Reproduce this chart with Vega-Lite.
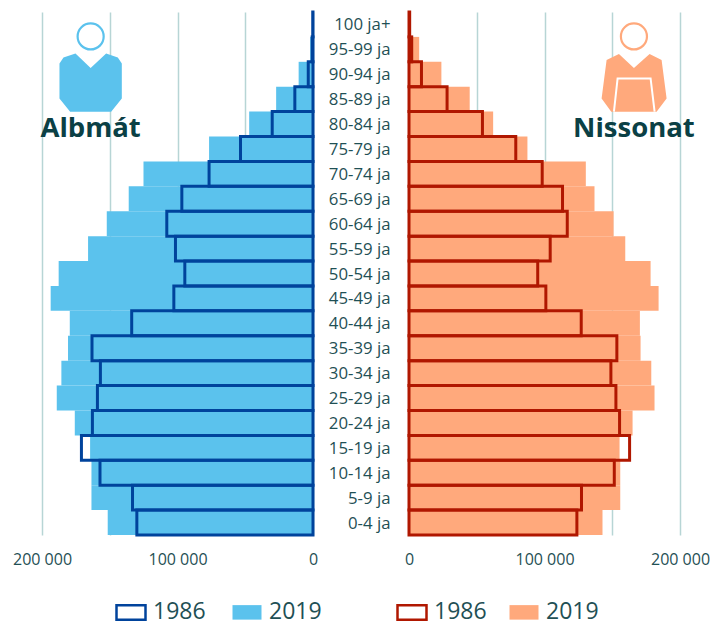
{"$schema":"https://vega.github.io/schema/vega-lite/v6.json","padding":{"left":12,"top":10,"right":0,"bottom":0},"background":"white","bounds":"flush","spacing":96,"resolve":{"scale":{"fill":"independent","stroke":"independent"},"legend":{"fill":"independent","stroke":"independent"}},"config":{"view":{"stroke":null},"font":"Open Sans","axis":{"labelFont":"Open Sans","labelColor":"#1f5055","labelFontSize":16,"title":null},"legend":{"labelFont":"Open Sans","labelColor":"#1f5055"}},"datasets":{"pop":[
{"sex":"m","age":"100 ja+","year":"2019","value":300},{"sex":"m","age":"95-99 ja","year":"2019","value":2100},{"sex":"m","age":"90-94 ja","year":"2019","value":10600},{"sex":"m","age":"85-89 ja","year":"2019","value":27200},{"sex":"m","age":"80-84 ja","year":"2019","value":47100},{"sex":"m","age":"75-79 ja","year":"2019","value":76700},{"sex":"m","age":"70-74 ja","year":"2019","value":125100},{"sex":"m","age":"65-69 ja","year":"2019","value":136000},{"sex":"m","age":"60-64 ja","year":"2019","value":152200},{"sex":"m","age":"55-59 ja","year":"2019","value":166000},{"sex":"m","age":"50-54 ja","year":"2019","value":187700},{"sex":"m","age":"45-49 ja","year":"2019","value":193600},{"sex":"m","age":"40-44 ja","year":"2019","value":179500},{"sex":"m","age":"35-39 ja","year":"2019","value":180800},{"sex":"m","age":"30-34 ja","year":"2019","value":185700},{"sex":"m","age":"25-29 ja","year":"2019","value":189100},{"sex":"m","age":"20-24 ja","year":"2019","value":175800},{"sex":"m","age":"15-19 ja","year":"2019","value":164500},{"sex":"m","age":"10-14 ja","year":"2019","value":163500},{"sex":"m","age":"5-9 ja","year":"2019","value":163500},{"sex":"m","age":"0-4 ja","year":"2019","value":151500},
{"sex":"m","age":"100 ja+","year":"1986","value":200},{"sex":"m","age":"95-99 ja","year":"1986","value":600},{"sex":"m","age":"90-94 ja","year":"1986","value":3500},{"sex":"m","age":"85-89 ja","year":"1986","value":13400},{"sex":"m","age":"80-84 ja","year":"1986","value":30100},{"sex":"m","age":"75-79 ja","year":"1986","value":53500},{"sex":"m","age":"70-74 ja","year":"1986","value":76700},{"sex":"m","age":"65-69 ja","year":"1986","value":96800},{"sex":"m","age":"60-64 ja","year":"1986","value":107900},{"sex":"m","age":"55-59 ja","year":"1986","value":101500},{"sex":"m","age":"50-54 ja","year":"1986","value":94600},{"sex":"m","age":"45-49 ja","year":"1986","value":102700},{"sex":"m","age":"40-44 ja","year":"1986","value":133800},{"sex":"m","age":"35-39 ja","year":"1986","value":163100},{"sex":"m","age":"30-34 ja","year":"1986","value":156900},{"sex":"m","age":"25-29 ja","year":"1986","value":159100},{"sex":"m","age":"20-24 ja","year":"1986","value":162800},{"sex":"m","age":"15-19 ja","year":"1986","value":170900},{"sex":"m","age":"10-14 ja","year":"1986","value":157200},{"sex":"m","age":"5-9 ja","year":"1986","value":133200},{"sex":"m","age":"0-4 ja","year":"1986","value":130000},
{"sex":"f","age":"100 ja+","year":"2019","value":1000},{"sex":"f","age":"95-99 ja","year":"2019","value":7500},{"sex":"f","age":"90-94 ja","year":"2019","value":23900},{"sex":"f","age":"85-89 ja","year":"2019","value":44800},{"sex":"f","age":"80-84 ja","year":"2019","value":62100},{"sex":"f","age":"75-79 ja","year":"2019","value":87400},{"sex":"f","age":"70-74 ja","year":"2019","value":130500},{"sex":"f","age":"65-69 ja","year":"2019","value":136900},{"sex":"f","age":"60-64 ja","year":"2019","value":151000},{"sex":"f","age":"55-59 ja","year":"2019","value":159600},{"sex":"f","age":"50-54 ja","year":"2019","value":178300},{"sex":"f","age":"45-49 ja","year":"2019","value":184200},{"sex":"f","age":"40-44 ja","year":"2019","value":170400},{"sex":"f","age":"35-39 ja","year":"2019","value":170900},{"sex":"f","age":"30-34 ja","year":"2019","value":178800},{"sex":"f","age":"25-29 ja","year":"2019","value":181200},{"sex":"f","age":"20-24 ja","year":"2019","value":165000},{"sex":"f","age":"15-19 ja","year":"2019","value":155400},{"sex":"f","age":"10-14 ja","year":"2019","value":155900},{"sex":"f","age":"5-9 ja","year":"2019","value":155900},{"sex":"f","age":"0-4 ja","year":"2019","value":142800},
{"sex":"f","age":"100 ja+","year":"1986","value":500},{"sex":"f","age":"95-99 ja","year":"1986","value":2000},{"sex":"f","age":"90-94 ja","year":"1986","value":9200},{"sex":"f","age":"85-89 ja","year":"1986","value":28100},{"sex":"f","age":"80-84 ja","year":"1986","value":54200},{"sex":"f","age":"75-79 ja","year":"1986","value":78800},{"sex":"f","age":"70-74 ja","year":"1986","value":98300},{"sex":"f","age":"65-69 ja","year":"1986","value":113300},{"sex":"f","age":"60-64 ja","year":"1986","value":116800},{"sex":"f","age":"55-59 ja","year":"1986","value":104200},{"sex":"f","age":"50-54 ja","year":"1986","value":95000},{"sex":"f","age":"45-49 ja","year":"1986","value":101000},{"sex":"f","age":"40-44 ja","year":"1986","value":127100},{"sex":"f","age":"35-39 ja","year":"1986","value":153400},{"sex":"f","age":"30-34 ja","year":"1986","value":149000},{"sex":"f","age":"25-29 ja","year":"1986","value":152700},{"sex":"f","age":"20-24 ja","year":"1986","value":155400},{"sex":"f","age":"15-19 ja","year":"1986","value":162800},{"sex":"f","age":"10-14 ja","year":"1986","value":151500},{"sex":"f","age":"5-9 ja","year":"1986","value":127300},{"sex":"f","age":"0-4 ja","year":"1986","value":123900}
]},"hconcat":[
{"width":271,"height":523,"layer":[
{"data":{"name":"pop"},"transform":[{"filter":"datum.sex==='m' && datum.year==='2019'"}],"mark":{"type":"bar","strokeWidth":0},
"encoding":{"y":{"field":"age","type":"nominal","axis":null,"scale":{"type":"band","paddingInner":0,"paddingOuter":0,"domain":["100 ja+","95-99 ja","90-94 ja","85-89 ja","80-84 ja","75-79 ja","70-74 ja","65-69 ja","60-64 ja","55-59 ja","50-54 ja","45-49 ja","40-44 ja","35-39 ja","30-34 ja","25-29 ja","20-24 ja","15-19 ja","10-14 ja","5-9 ja","0-4 ja"]}},
"x":{"field":"value","type":"quantitative","stack":null,"scale":{"domain":[0,200000],"reverse":true,"nice":false},"axis":{"values":[0,50000,100000,150000,200000],"grid":true,"gridColor":"#b7d5d5","gridWidth":1.5,"domain":false,"ticks":false,"labelPadding":16,"labelFlush":false,"labelOverlap":false,"labelExpr":"datum.value % 100000 === 0 ? replace(format(datum.value, ','), ',', ' ') : ''"}},
"fill":{"field":"year","type":"nominal","scale":{"domain":["1986","2019"],"range":["transparent","#5bc2ed"]},"legend":{"orient":"none","legendX":73,"legendY":584,"direction":"horizontal","columns":2,"title":null,"symbolType":"M-1,-0.5H1V0.5H-1Z","symbolSize":841,"symbolStrokeWidth":2.5,"labelFontSize":23,"labelOffset":6,"columnPadding":21}},
"stroke":{"field":"year","type":"nominal","scale":{"domain":["1986","2019"],"range":["#00439c","transparent"]}}}},
{"data":{"name":"pop"},"transform":[{"filter":"datum.sex==='m' && datum.year==='1986'"}],"mark":{"type":"bar","strokeWidth":3},
"encoding":{"y":{"field":"age","type":"nominal","axis":null},"x":{"field":"value","type":"quantitative","stack":null},
"fill":{"field":"year","type":"nominal"},"stroke":{"field":"year","type":"nominal"}}},
{"data":{"values":[{"age":"100 ja+","v":164100}]},"mark":{"type":"point","shape":"circle","size":679,"fill":"white","stroke":"#5bc2ed","strokeWidth":2.2,"opacity":1},"encoding":{"y":{"field":"age","type":"nominal","bandPosition":0.98,"axis":null},"x":{"field":"v","type":"quantitative"}}},
{"data":{"values":[{"age":"90-94 ja","v":164100}]},"mark":{"type":"point","shape":"M-0.455,-0.88L0,-0.44L0.465,-0.88L0.815,-0.76L0.935,-0.58L0.935,0.47L0.615,0.87L-0.615,0.87L-0.935,0.47L-0.935,-0.58L-0.815,-0.76Z","size":4444,"filled":true,"fill":"#5bc2ed","strokeWidth":0,"opacity":1},"encoding":{"y":{"field":"age","type":"nominal","bandPosition":0.84,"axis":null},"x":{"field":"v","type":"quantitative"}}},
{"data":{"values":[{"age":"80-84 ja","v":164100,"label":"Albmát"}]},"mark":{"type":"text","font":"Open Sans","fontWeight":"bold","fontSize":27.5,"color":"#0b4045","baseline":"middle","dy":5},"encoding":{"y":{"field":"age","type":"nominal","axis":null},"x":{"field":"v","type":"quantitative"},"text":{"field":"label"}}}
]},
{"width":271,"height":523,"layer":[
{"data":{"name":"pop"},"transform":[{"filter":"datum.sex==='f' && datum.year==='2019'"}],"mark":{"type":"bar","strokeWidth":0},
"encoding":{"y":{"field":"age","type":"nominal","scale":{"type":"band","paddingInner":0,"paddingOuter":0,"domain":["100 ja+","95-99 ja","90-94 ja","85-89 ja","80-84 ja","75-79 ja","70-74 ja","65-69 ja","60-64 ja","55-59 ja","50-54 ja","45-49 ja","40-44 ja","35-39 ja","30-34 ja","25-29 ja","20-24 ja","15-19 ja","10-14 ja","5-9 ja","0-4 ja"]},"axis":{"orient":"left","domain":false,"ticks":false,"labelPadding":19,"labelAlign":"right","labelOverlap":false,"labelBound":false,"labelFontSize":16.8,"labelOffset":1}},
"x":{"field":"value","type":"quantitative","stack":null,"scale":{"domain":[0,200000],"nice":false},"axis":{"values":[0,50000,100000,150000,200000],"grid":true,"gridColor":"#b7d5d5","gridWidth":1.5,"domain":false,"ticks":false,"labelPadding":16,"labelFlush":false,"labelOverlap":false,"labelExpr":"datum.value % 100000 === 0 ? replace(format(datum.value, ','), ',', ' ') : ''"}},
"fill":{"field":"year","type":"nominal","scale":{"domain":["1986","2019"],"range":["transparent","#ffa97c"]},"legend":{"orient":"none","legendX":-13,"legendY":584,"direction":"horizontal","columns":2,"title":null,"symbolType":"M-1,-0.5H1V0.5H-1Z","symbolSize":841,"symbolStrokeWidth":2.5,"labelFontSize":23,"labelOffset":6,"columnPadding":17}},
"stroke":{"field":"year","type":"nominal","scale":{"domain":["1986","2019"],"range":["#b01700","transparent"]}}}},
{"data":{"name":"pop"},"transform":[{"filter":"datum.sex==='f' && datum.year==='1986'"}],"mark":{"type":"bar","strokeWidth":3},
"encoding":{"y":{"field":"age","type":"nominal"},"x":{"field":"value","type":"quantitative","stack":null},
"fill":{"field":"year","type":"nominal"},"stroke":{"field":"year","type":"nominal"}}},
{"data":{"values":[{"age":"100 ja+","v":166000}]},"mark":{"type":"point","shape":"circle","size":679,"fill":"white","stroke":"#ffa97c","strokeWidth":2.2,"opacity":1},"encoding":{"y":{"field":"age","type":"nominal","bandPosition":0.98},"x":{"field":"v","type":"quantitative"}}},
{"data":{"values":[{"age":"90-94 ja","v":166000}]},"mark":{"type":"point","shape":"M-0.45,-0.86L0,-0.44L0.47,-0.86L0.83,-0.68L0.98,0.47L0.68,0.87L-0.68,0.87L-0.97,0.47L-0.82,-0.68Z","size":4444,"filled":true,"fill":"#ffa97c","strokeWidth":0,"opacity":1},"encoding":{"y":{"field":"age","type":"nominal","bandPosition":0.84},"x":{"field":"v","type":"quantitative"}}},
{"data":{"values":[{"age":"90-94 ja","v":166000}]},"mark":{"type":"point","shape":"M-0.6,0.87L-0.49,-0.13L0.5,-0.13L0.62,0.87","size":4444,"fill":"transparent","stroke":"white","strokeWidth":2,"opacity":1},"encoding":{"y":{"field":"age","type":"nominal","bandPosition":0.84},"x":{"field":"v","type":"quantitative"}}},
{"data":{"values":[{"age":"80-84 ja","v":166000,"label":"Nissonat"}]},"mark":{"type":"text","font":"Open Sans","fontWeight":"bold","fontSize":27.5,"color":"#0b4045","baseline":"middle","dy":5},"encoding":{"y":{"field":"age","type":"nominal"},"x":{"field":"v","type":"quantitative"},"text":{"field":"label"}}}
]}
]}
